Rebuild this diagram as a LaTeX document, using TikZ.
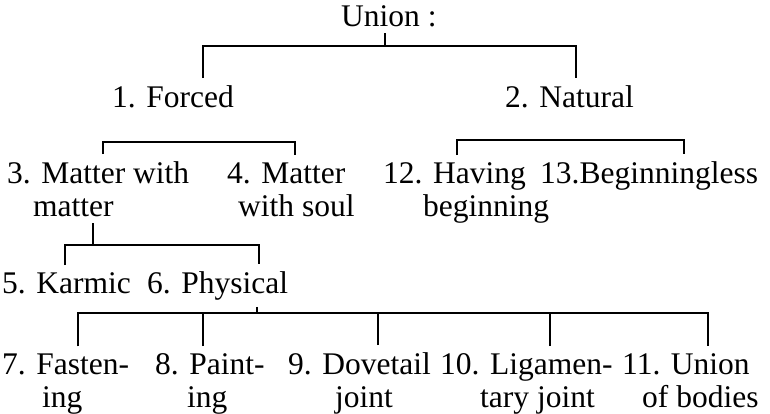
\documentclass[tikz,border=0pt]{standalone}
\usepackage{fontspec}
\setmainfont{Liberation Serif}
\usetikzlibrary{calc}

\begin{document}
\begin{tikzpicture}[x=1pt,y=-1pt,
  lbl/.style={anchor=base west,inner sep=0pt,outer ysep=7pt,align=left,font=\fontsize{31.5}{33}\selectfont},
  br/.style={line width=2pt}]
\useasboundingbox(0,0)rectangle(770,413);

%分類名 (複数行は最終行のベースライン)
\node[lbl](union)at(341,26){Union :};
\node[lbl](forced)at(112,107){1. Forced};
\node[lbl](natural)at(505,107){2. Natural};
\node[lbl](mwm)at(7,216){3. Matter with\\\hspace*{26pt}matter};
\node[lbl](mws)at(227,216){4. Matter\\\hspace*{11pt}with soul};
\node[lbl](having)at(383,216){12. Having\\\hspace*{40pt}beginning};
\node[lbl](beginless)at(540,183){13.Beginningless};
\node[lbl](karmic)at(2,293){5. Karmic};
\node[lbl](physical)at(147,293){6. Physical};
\node[lbl](fasten)at(2,407){7. Fasten-\\\hspace*{40pt}ing};
\node[lbl](paint)at(155,407){8. Paint-\\\hspace*{32pt}ing};
\node[lbl](dovetail)at(288,407){9. Dovetail\\\hspace*{47pt}joint};
\node[lbl](ligament)at(440,407){10. Ligamen-\\\hspace*{40pt}tary joint};
\node[lbl](bodies)at(622,407){11. Union\\\hspace*{20pt}of bodies};

%枝の点
\coordinate(u0)at(385,46);
\coordinate(uL)at(203,46);
\coordinate(uR)at(576,46);
\coordinate(fL)at(103,142);
\coordinate(fR)at(295,142);
\coordinate(nL)at(457,140);
\coordinate(nR)at(684,140);
\coordinate(m0)at(93,245);
\coordinate(mL)at(65,245);
\coordinate(mR)at(259,245);
\coordinate(p0)at(257,313);
\coordinate(pA)at(78,313);
\coordinate(pB)at(203,313);
\coordinate(pC)at(378,313);
\coordinate(pD)at(550,313);
\coordinate(pE)at(708,313);

%枝
\draw[br](union.south-|u0)--(u0); %Union
\draw[br](forced.north-|uL)|-(uR)--(natural.north-|uR);
\draw[br](mwm.north-|fL)|-(fR)--(mws.north-|fR); %Forced
\draw[br](having.north-|nL)|-(nR)--(beginless.north-|nR); %Natural
\draw[br](mwm.south-|m0)--(m0); %Matter with matter
\draw[br](karmic.north-|mL)|-(mR)--(physical.north-|mR);
\draw[br](physical.south-|p0)--(p0); %Physical
\draw[br](fasten.north-|pA)|-(pE)--(bodies.north-|pE);
\draw[br](paint.north-|pB)--(pB);
\draw[br](dovetail.north-|pC)--(pC);
\draw[br](ligament.north-|pD)--(pD);
\end{tikzpicture}
\end{document}
